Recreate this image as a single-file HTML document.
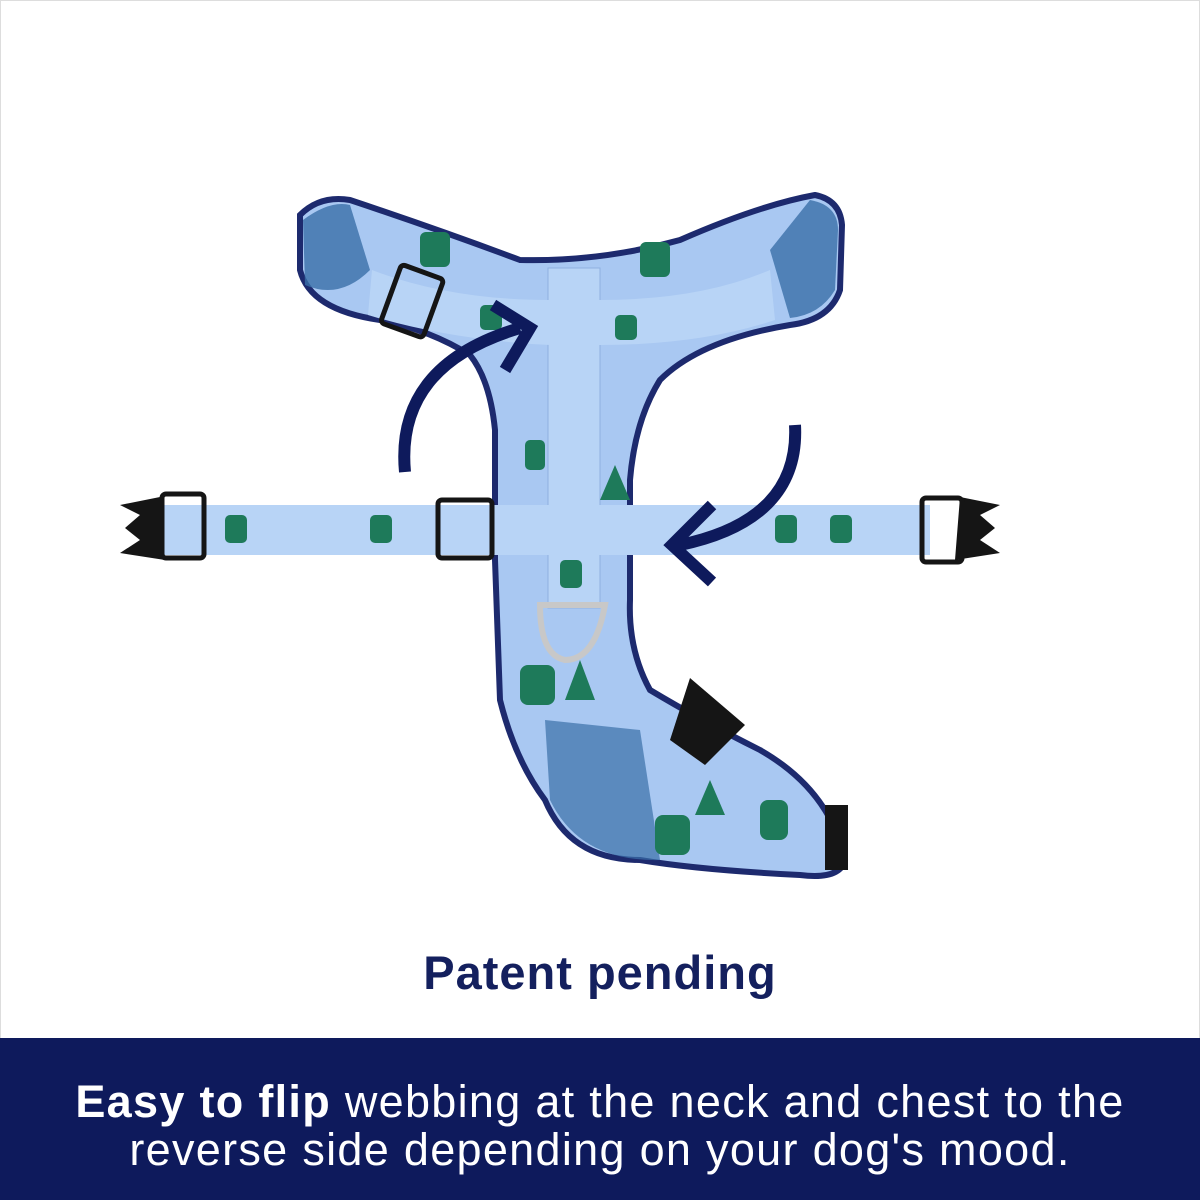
<!DOCTYPE html>
<html><head><meta charset="utf-8"><style>
html,body{margin:0;padding:0;width:1200px;height:1200px;background:#fff;overflow:hidden;font-family:"Liberation Sans",sans-serif}
.frame{position:absolute;left:0;top:0;width:1198px;height:1198px;border:1px solid #ddd}
.pp{position:absolute;top:945px;left:0;width:1200px;text-align:center;font-size:47px;font-weight:bold;color:#14205e;letter-spacing:1px}
.band{position:absolute;left:0;top:1038px;width:1200px;height:162px;background:#0e1a5c;color:#fff;text-align:center;font-size:45px;line-height:48px;padding-top:40px;box-sizing:border-box;letter-spacing:1.3px}
</style></head><body>
<div class="frame"></div>
<svg width="1200" height="1200" style="position:absolute;left:0;top:0">
<path d="M300,215 Q320,195 350,200 Q440,230 520,260 Q600,262 680,240 Q760,205 815,195 Q840,200 842,225 L840,290 Q830,320 790,325 Q700,340 660,380 Q635,420 630,480 L630,600 Q628,650 650,690 Q700,720 760,750 Q830,790 845,860 Q840,880 800,875 Q700,870 640,860 Q570,860 545,800 Q515,760 500,700 L495,560 L495,430 Q490,380 470,355 Q430,330 380,320 Q310,310 300,270 Z" fill="#a9c8f2" stroke="#1d2a6e" stroke-width="6"/>
<path d="M303,220 Q330,200 350,205 L370,270 Q340,300 305,285 Z" fill="#3a6fa8" opacity="0.8"/>
<path d="M810,200 Q838,205 838,230 L835,290 Q820,315 790,318 L770,250 Z" fill="#3a6fa8" opacity="0.8"/>
<path d="M545,720 L640,730 L660,860 Q580,862 550,800 Z" fill="#3a6fa8" opacity="0.7"/>
<rect x="548" y="268" width="52" height="340" fill="#b8d4f6" stroke="#8fb0e0" stroke-width="1"/>
<path d="M372,270 Q450,300 550,300 L600,300 Q700,300 770,270 L775,320 Q700,345 600,345 L550,345 Q450,340 368,315 Z" fill="#b8d4f6"/>
<rect x="150" y="505" width="780" height="50" fill="#b8d4f6"/>
<g fill="#1e7a5a">
<rect x="420" y="232" width="30" height="35" rx="6"/><rect x="640" y="242" width="30" height="35" rx="6"/>
<rect x="520" y="665" width="35" height="40" rx="8"/><rect x="655" y="815" width="35" height="40" rx="8"/>
<rect x="760" y="800" width="28" height="40" rx="8"/><polygon points="615,465 600,500 630,500"/>
<polygon points="580,660 565,700 595,700"/><polygon points="710,780 695,815 725,815"/>
<rect x="225" y="515" width="22" height="28" rx="5"/><rect x="370" y="515" width="22" height="28" rx="5"/>
<rect x="525" y="440" width="20" height="30" rx="5"/><rect x="560" y="560" width="22" height="28" rx="5"/>
<rect x="775" y="515" width="22" height="28" rx="5"/><rect x="830" y="515" width="22" height="28" rx="5"/>
<rect x="615" y="315" width="22" height="25" rx="5"/><rect x="480" y="305" width="22" height="25" rx="5"/>
</g>
<g fill="#151515">
<path d="M120,505 L160,497 L165,560 L120,553 L140,540 L125,528 L140,515 Z"/>
<rect x="162" y="494" width="42" height="64" rx="4" fill="none" stroke="#151515" stroke-width="5"/>
<path d="M1000,505 L960,497 L955,560 L1000,553 L980,540 L995,528 L980,515 Z"/>
<rect x="922" y="498" width="40" height="64" rx="4" fill="none" stroke="#151515" stroke-width="5"/>
<rect x="438" y="500" width="54" height="58" rx="4" fill="none" stroke="#151515" stroke-width="5"/>
<rect x="390" y="270" width="45" height="62" rx="4" fill="none" stroke="#151515" stroke-width="5" transform="rotate(20 412 300)"/>
<path d="M690,678 L745,725 L705,765 L670,740 Z"/>
<path d="M825,805 L848,805 L848,870 L825,870 Z"/>
</g>
<path d="M540,605 L605,605 Q595,660 565,660 Q540,655 540,605 Z" fill="none" stroke="#c8c8c8" stroke-width="6"/>
<g stroke="#0e1a5c" stroke-width="12" fill="none">
<path d="M405,472 Q395,365 520,328"/>
<path d="M493,305 L530,328 L505,370"/>
<path d="M795,425 Q800,520 680,545"/>
<path d="M712,505 L672,545 L712,582"/>
</g>
</svg>
<div class="pp">Patent pending</div>
<div class="band"><b>Easy to flip</b> webbing at the neck and chest to the<br>reverse side depending on your dog's mood.</div>
</body></html>
